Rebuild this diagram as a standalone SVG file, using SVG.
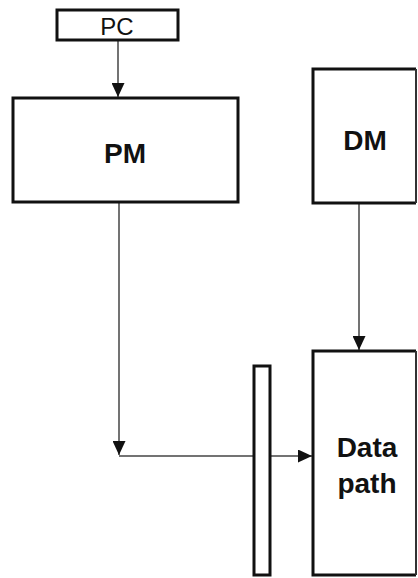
<svg xmlns="http://www.w3.org/2000/svg" width="418" height="578" viewBox="0 0 418 578">
  <style>
    .box { fill: #ffffff; stroke: #111111; stroke-width: 3; }
    .edge { fill: none; stroke: #333333; stroke-width: 2; }
    .wire { fill: none; stroke: #444444; stroke-width: 1.5; }
    .lbl { font-family: "Liberation Sans", Arial, sans-serif; fill: #111111; text-anchor: middle; }
    .big { font-size: 28px; font-weight: bold; }
    .small { font-size: 24px; }
  </style>
  <defs>
    <marker id="arrow" viewBox="0 0 14 13" refX="14" refY="6.5" markerWidth="14" markerHeight="13" markerUnits="userSpaceOnUse" orient="auto">
      <path d="M0,0 L14,6.5 L0,13 Z" fill="#111111"/>
    </marker>
  </defs>
  <rect width="418" height="578" fill="#ffffff"/>

  <g id="connectors">
    <line class="wire" x1="118" y1="40" x2="118" y2="97" marker-end="url(#arrow)"/>
    <line class="wire" x1="119" y1="202" x2="119" y2="455" marker-end="url(#arrow)"/>
    <line class="wire" x1="119" y1="456" x2="312" y2="456" marker-end="url(#arrow)"/>
    <line class="wire" x1="359" y1="203" x2="359" y2="350" marker-end="url(#arrow)"/>
  </g>

  <g id="pc">
    <rect class="box" x="57" y="10" width="121" height="30"/>
    <text class="lbl small" x="117" y="35">PC</text>
  </g>

  <g id="pm">
    <rect class="box" x="13" y="98" width="225" height="104"/>
    <text class="lbl big" x="125" y="163">PM</text>
  </g>

  <g id="dm">
    <path class="box" d="M416,69 H313 V203 H416"/>
    <line class="edge" x1="416" y1="69" x2="416" y2="203"/>
    <text class="lbl big" x="365" y="150">DM</text>
  </g>

  <g id="register">
    <rect class="box" x="254" y="366" width="16" height="209"/>
  </g>

  <g id="datapath">
    <path class="box" d="M416,351 H313 V575 H416"/>
    <line class="edge" x1="416" y1="351" x2="416" y2="575"/>
    <text class="lbl big" x="367" y="457">Data</text>
    <text class="lbl big" x="367" y="493">path</text>
  </g>
</svg>
